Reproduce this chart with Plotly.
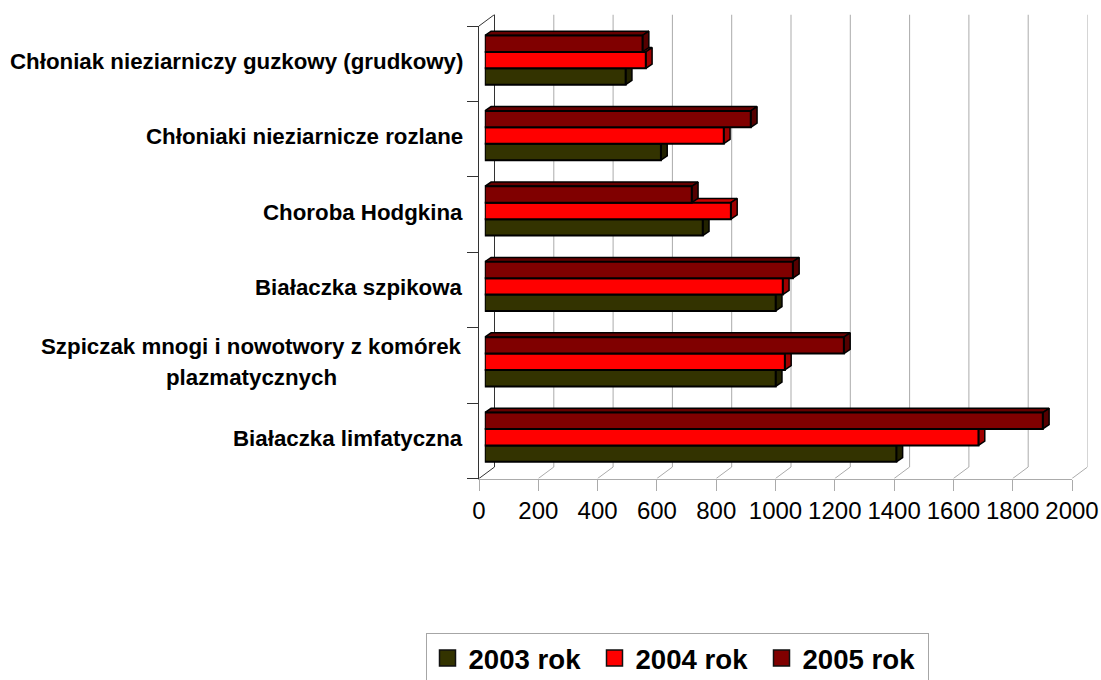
import plotly.graph_objects as go

categories = ["Białaczka limfatyczna", "Szpiczak mnogi i nowotwory z komórek<br>plazmatycznych",
              "Białaczka szpikowa", "Choroba Hodgkina", "Chłoniaki nieziarnicze rozlane",
              "Chłoniak nieziarniczy guzkowy (grudkowy)"]
values_2003 = [1388, 981, 981, 735, 594, 475]
values_2004 = [1665, 1012, 1005, 830, 806, 543]
values_2005 = [1882, 1211, 1039, 698, 897, 532]
series_names = ["2003 rok", "2004 rok", "2005 rok"]
tick_values = list(range(0, 2001, 200))

front = ["#333300", "#FF0000", "#800000"]
side = ["#222200", "#A00000", "#550000"]
top = ["#292900", "#CC0000", "#660000"]
series = [values_2003, values_2004, values_2005]

W, H = 1101, 680
L, R, T, B = 479, 1072, 26, 478.5      # front wall rectangle, px
WALL_DX, WALL_DY = 15.5, 11.5          # depth of the whole chart box, px
BAR_OX, BAR_OY = 5.8, 3.6              # bars' front plane offset, px
BAR_DX, BAR_DY = 6.3, 4.3              # depth of a bar, px
XSPAN = 2000.0
YSPAN = 6.0
PXU = (R - L) / XSPAN
PYU = (B - T) / YSPAN
BAR_H = 0.2175
GREY = "#ABABAB"
DARK = "#333333"
FONT = "Liberation Sans"


def xdom(o):
    return [(L + o) / W, (R + o) / W]


def ydom(o):
    return [1 - (B - o) / H, 1 - (T - o) / H]


hidden = dict(visible=False, fixedrange=True)
fig = go.Figure()

# back wall and floor (subplot 1, drawn first): spans the full depth box
ddx, ddy = WALL_DX / PXU, WALL_DY / PYU
for v in reversed(tick_values):
    fig.add_trace(go.Scatter(x=[v - ddx, v, v], y=[-0.5 - ddy, -0.5, 5.5], mode="lines",
                             line=dict(color=DARK if v == 0 else GREY, width=1),
                             showlegend=False, hoverinfo="skip", xaxis="x", yaxis="y"))
fig.add_trace(go.Scatter(x=[-ddx, 0], y=[5.5 - ddy, 5.5], mode="lines",
                         line=dict(color=DARK, width=1), showlegend=False, hoverinfo="skip",
                         xaxis="x", yaxis="y"))

# front axes (subplot 2)
fig.add_trace(go.Scatter(x=[0] * 6, y=categories, mode="markers", marker=dict(opacity=0),
                         showlegend=False, hoverinfo="skip", xaxis="x2", yaxis="y2"))

# depth faces of bars (subplot 3)
bdx, bdy = BAR_DX / PXU, BAR_DY / PYU
for s, vals in enumerate(series):
    for c, v in enumerate(vals):
        y0 = c + (s - 1.5) * BAR_H
        y1 = y0 + BAR_H
        fig.add_trace(go.Scatter(x=[0, v, v + bdx, bdx, 0], y=[y1, y1, y1 + bdy, y1 + bdy, y1],
                                 mode="lines", fill="toself", fillcolor=top[s], cliponaxis=False,
                                 line=dict(color="#000000", width=1.5), showlegend=False,
                                 hoverinfo="skip", xaxis="x3", yaxis="y3"))
        fig.add_trace(go.Scatter(x=[v, v + bdx, v + bdx, v, v], y=[y0, y0 + bdy, y1 + bdy, y1, y0],
                                 mode="lines", fill="toself", fillcolor=side[s], cliponaxis=False,
                                 line=dict(color="#000000", width=1.5), showlegend=False,
                                 hoverinfo="skip", xaxis="x3", yaxis="y3"))

# front faces of bars (subplot 4)
for s, vals in enumerate(series):
    fig.add_trace(go.Bar(name=series_names[s], x=vals, y=categories, orientation="h",
                         marker=dict(color=front[s], line=dict(color="#000000", width=2)),
                         showlegend=False, xaxis="x4", yaxis="y4"))

# legend entries
for s, name in enumerate(series_names):
    fig.add_trace(go.Scatter(name=name, x=[None], y=[None], mode="markers",
                             marker=dict(symbol="square", size=19, color=front[s],
                                         line=dict(color="#111111", width=1.5)),
                             xaxis="x2", yaxis="y2"))

# category labels
LABEL_FONT = dict(family=FONT, size=22.3, color="#000000", weight="bold")
annotations = []
for cat in categories:
    parts = cat.split("<br>")
    if len(parts) == 1:
        annotations.append(dict(text=cat, x=465 / W, xref="paper", xanchor="right", y=cat, yref="y2",
                                yanchor="middle", yshift=2.5, showarrow=False, align="right",
                                font=LABEL_FONT))
    else:
        for i, part in enumerate(parts):
            annotations.append(dict(text=part, x=251 / W, xref="paper", xanchor="center", y=cat,
                                    yref="y2", yanchor="middle", yshift=18.5 - 31 * i, showarrow=False,
                                    font=LABEL_FONT))

fig.update_layout(
    width=W, height=H, autosize=False,
    margin=dict(l=0, r=0, t=0, b=0, pad=0, autoexpand=False),
    paper_bgcolor="#FFFFFF", plot_bgcolor="rgba(0,0,0,0)",
    barmode="group", bargap=1 - 3 * BAR_H, bargroupgap=0,
    font=dict(family=FONT, color="#000000"),
    annotations=annotations,
    showlegend=True,
    legend=dict(orientation="h", x=425.5 / W, y=1 - 632.5 / H, xanchor="left", yanchor="top",
                bgcolor="#FFFFFF", bordercolor="#A6A6A6", borderwidth=1, itemwidth=32,
                entrywidth=120, entrywidthmode="pixels", itemsizing="trace", traceorder="normal",
                font=dict(family=FONT, size=27.6, color="#000000", weight="bold")),
    # back wall and floor box
    xaxis=dict(domain=[L / W, (R + WALL_DX) / W], range=[-ddx, XSPAN], anchor="y", **hidden),
    yaxis=dict(domain=[1 - B / H, 1 - (T - WALL_DY) / H], range=[-0.5 - ddy, 5.5], anchor="x", **hidden),
    # front axes
    xaxis2=dict(domain=xdom(0), range=[0, XSPAN], tickvals=tick_values, showgrid=False, zeroline=False,
                showline=True, linecolor=GREY, linewidth=1, ticks="outside", ticklen=11, tickcolor=GREY,
                tickwidth=1, tickfont=dict(family=FONT, size=24, color="#000000"),
                anchor="y2", fixedrange=True),
    yaxis2=dict(domain=ydom(0), type="category", categoryorder="array", categoryarray=categories,
                range=[-0.5, 5.5], tickson="boundaries", showgrid=False, zeroline=False, showline=True,
                linecolor=DARK, linewidth=1, ticks="outside", ticklen=11, tickcolor=DARK, tickwidth=1,
                showticklabels=False, anchor="x2", fixedrange=True),
    xaxis3=dict(domain=xdom(BAR_OX), range=[0, XSPAN], anchor="y3", **hidden),
    yaxis3=dict(domain=ydom(BAR_OY), range=[-0.5, 5.5], anchor="x3", **hidden),
    xaxis4=dict(domain=xdom(BAR_OX), range=[0, XSPAN], anchor="y4", **hidden),
    yaxis4=dict(domain=ydom(BAR_OY), type="category", categoryorder="array", categoryarray=categories,
                range=[-0.5, 5.5], anchor="x4", **hidden),
)

fig.write_html("out.html", config={"displayModeBar": False},
               post_script="document.body.style.margin='0';document.body.style.overflow='hidden';")
